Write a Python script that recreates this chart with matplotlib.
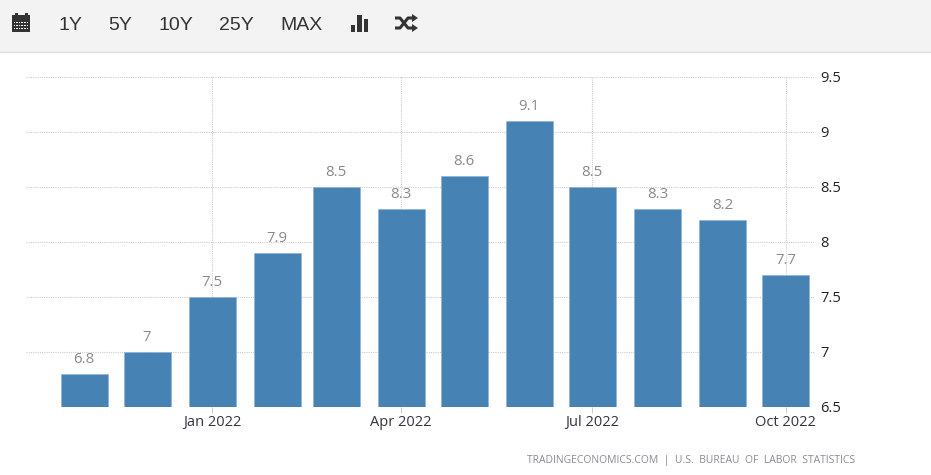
import matplotlib
matplotlib.use("Agg")
import matplotlib.pyplot as plt
import matplotlib.dates as mdates
import pandas as pd
from matplotlib.patches import Rectangle

months = ["2021-11-01", "2021-12-01", "2022-01-01", "2022-02-01", "2022-03-01", "2022-04-01",
          "2022-05-01", "2022-06-01", "2022-07-01", "2022-08-01", "2022-09-01", "2022-10-01"]
values = [6.8, 7.0, 7.5, 7.9, 8.5, 8.3, 8.6, 9.1, 8.5, 8.3, 8.2, 7.7]
value_labels = ["6.8", "7", "7.5", "7.9", "8.5", "8.3", "8.6", "9.1", "8.5", "8.3", "8.2", "7.7"]
y_ticks = [6.5, 7, 7.5, 8, 8.5, 9, 9.5]
y_labels = ["6.5", "7", "7.5", "8", "8.5", "9", "9.5"]
x_ticks = ["2022-01-01", "2022-04-01", "2022-07-01", "2022-10-01"]
x_labels = ["Jan 2022", "Apr 2022", "Jul 2022", "Oct 2022"]
buttons = ["1Y", "5Y", "10Y", "25Y", "MAX"]
button_x = [58, 108, 159, 219, 280]
source = "TRADINGECONOMICS.COM  |  U.S.  BUREAU  OF  LABOR  STATISTICS"

W, H = 931, 475
plt.rcParams["font.family"] = ["Open Sans", "DejaVu Sans"]
fig = plt.figure(figsize=(W / 100, H / 100), dpi=100, facecolor="white")

# main chart, placed in pixels
left, right, top, bottom = 26, 815, 76.7, 406.7
ax = fig.add_axes([left / W, 1 - bottom / H, (right - left) / W, (bottom - top) / H])
dates = pd.to_datetime(months)
ax.bar(dates, values, width=22.4, color="#4682b4", edgecolor="#8fb4d4", linewidth=0.5, zorder=3)
for d, v, s in zip(dates, values, value_labels):
    ax.annotate(s, (d, v), xytext=(0, 5), textcoords="offset points", ha="center", va="bottom",
                fontsize=10.8, color="#8a8a8a")

# x range worked out from the pixel spacing of the monthly bars
jan = mdates.date2num(pd.Timestamp("2022-01-01"))
jan_px = 212.2
ax.set_xlim(jan - (jan_px - left) / 2.1, jan + (right - jan_px) / 2.1)
ax.set_ylim(6.5, 9.5)
ax.set_yticks(y_ticks, y_labels)
ax.set_xticks(pd.to_datetime(x_ticks), x_labels)
ax.yaxis.tick_right()
ax.tick_params(axis="y", length=0, pad=4, labelsize=10.5, labelcolor="#222222")
ax.tick_params(axis="x", length=4, width=0.7, color="#cccccc", pad=2, labelsize=10.5, labelcolor="#333344")
ax.grid(True, linestyle=(0, (1, 1)), linewidth=0.8, color="#cccccc", zorder=0)
ax.set_axisbelow(True)
for sp in ax.spines.values():
    sp.set_visible(False)

fig.text(855 / W, 1 - 461 / H, source, ha="right", va="center", fontsize=7.46, color="#8a8a96")

# toolbar on top, drawn in pixel coordinates
bar = fig.add_axes([0, 0, 1, 1], facecolor="none")
bar.set_xlim(0, W)
bar.set_ylim(H, 0)
bar.axis("off")
bar.add_patch(Rectangle((0, 0), W, 51.5, color="#f3f3f3", lw=0))
bar.plot([0, W], [51.8, 51.8], color="#dddddd", lw=1)
for x, s in zip(button_x, buttons):
    bar.text(x, 25, s, ha="left", va="center", fontsize=14, color="#333333", family="Liberation Sans")

# calendar icon
ink = "#333333"
bar.add_patch(Rectangle((12, 15), 18, 17, color=ink, lw=0))
bar.add_patch(Rectangle((15, 13), 2.5, 4, color=ink, lw=0))
bar.add_patch(Rectangle((25, 13), 2.5, 4, color=ink, lw=0))
for r in range(3):
    for c in range(6):
        bar.add_patch(Rectangle((13.5 + c * 2.6, 21.5 + r * 3), 1.6, 1.8, color="#f3f3f3", lw=0))

# bars icon
for x, y0 in zip([350.5, 357, 363.5], [25, 15, 19]):
    bar.add_patch(Rectangle((x, y0), 4.8, 32 - y0, color=ink, lw=0))

# shuffle icon
bar.plot([395, 400, 408, 413], [18, 18, 28, 28], color=ink, lw=2.2, solid_capstyle="butt")
bar.plot([395, 400, 408, 413], [28, 28, 18, 18], color=ink, lw=2.2, solid_capstyle="butt")
bar.fill([412, 412, 418], [14, 22, 18], color=ink, lw=0)
bar.fill([412, 412, 418], [24, 32, 28], color=ink, lw=0)

fig.savefig("out.png", dpi=100)
